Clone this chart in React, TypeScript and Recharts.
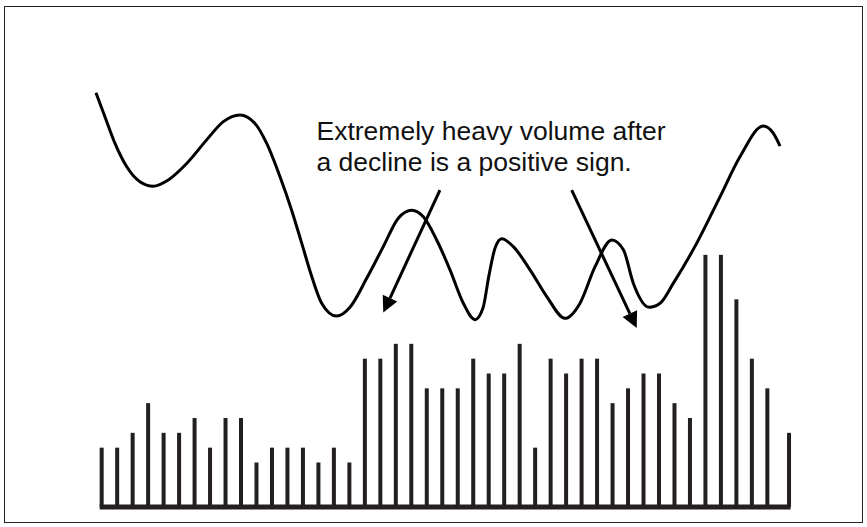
import React from "react";
import {
  ComposedChart,
  Bar,
  Line,
  XAxis,
  YAxis,
  ReferenceLine,
} from "recharts";

// volume bars, one per session
const days = [
  1, 2, 3, 4, 5, 6, 7, 8, 9, 10, 11, 12, 13, 14, 15, 16, 17, 18, 19, 20, 21,
  22, 23, 24, 25, 26, 27, 28, 29, 30, 31, 32, 33, 34, 35, 36, 37, 38, 39, 40,
  41, 42, 43, 44, 45.4,
];
const volume = [
  4, 4, 5, 7, 5, 5, 6, 4, 6, 6, 3, 4, 4, 4, 3, 4, 3, 10, 10, 11, 11, 8, 8, 8,
  10, 9, 9, 11, 4, 10, 9, 10, 10, 7, 8, 9, 9, 7, 6, 17, 17, 14, 10, 8, 5,
];

// price curve, traced points
const priceDays = [
  0.63, 1.21, 1.86, 2.61, 3.47, 4.33, 5.3, 6.49, 7.78, 8.86, 9.93, 10.9, 11.66,
  12.52, 13.27, 13.92, 14.57, 15.21, 16.18, 17.04, 18.12, 19.19, 20.16, 21.03,
  21.78, 22.64, 23.5, 24.36, 25.12, 25.63, 26.02, 26.41, 26.84, 27.59, 28.67,
  29.75, 30.93, 31.9, 32.87, 33.95, 34.7, 35.34, 36.36, 37.07, 37.93, 39.44,
  40.94, 42.23, 43.74, 44.38, 44.82,
];
const priceValues = [
  93.1, 87.7, 81.7, 76.5, 73.1, 72.1, 73.5, 77.2, 82.5, 86.6, 88.1, 86.2, 81.7,
  74.2, 66.7, 59.3, 51.8, 45.8, 42.9, 44.9, 51.4, 58.5, 64.9, 66.7, 65.2, 60.0,
  53.3, 45.8, 42.1, 44.7, 52.1, 58.2, 60.3, 58.5, 53.3, 47.3, 42.4, 45.8, 54.0,
  60.0, 57.8, 50.3, 44.9, 45.8, 50.3, 59.3, 69.7, 78.7, 85.6, 84.0, 81.1,
];

// annotation arrows: [fromDay, fromPrice, toDay, toPrice]
const arrows = [
  [22.85, 71.2, 19.19, 43.7],
  [31.36, 71.2, 35.56, 40.2],
];
const noteLines = ["Extremely heavy volume after", "a decline is a positive sign."];

const volData = days.map((d, i) => ({ day: d, vol: volume[i] }));
const priceData = priceDays.map((d, i) => ({ day: d, price: priceValues[i] }));

// thin stick centred on the bar's slot
const StickBar = (props: any) => {
  const { x, y, width, height } = props;
  if (height == null || height <= 0) return null;
  const cx = x + width / 2;
  return <rect x={cx - 2} y={y} width={4} height={height} fill="#231f20" />;
};

const ArrowShape = (props: any) => {
  const { x1, y1, x2, y2 } = props;
  const a = Math.atan2(y2 - y1, x2 - x1);
  const len = 16;
  const half = 8;
  const bx = x2 - len * Math.cos(a);
  const by = y2 - len * Math.sin(a);
  const px = -Math.sin(a) * half;
  const py = Math.cos(a) * half;
  return (
    <g>
      <line x1={x1} y1={y1} x2={bx} y2={by} stroke="#000" strokeWidth={3} />
      <polygon
        points={`${x2},${y2} ${bx + px},${by + py} ${bx - px},${by - py}`}
        fill="#000"
      />
    </g>
  );
};

export default function App() {
  return (
    <div style={{ position: "absolute", left: 0, top: 0, width: 867, height: 527, background: "#fff" }}>
      <div
        style={{
          position: "absolute",
          left: 4,
          top: 6,
          width: 857,
          height: 515,
          border: "1px solid #222",
        }}
      />
      <ComposedChart
        width={867}
        height={527}
        data={volData}
        margin={{ top: 62, right: 53.2, bottom: 20, left: 86.2 }}
        style={{ position: "absolute", left: 0, top: 0 }}
      >
        <XAxis type="number" dataKey="day" domain={[0, 47]} hide />
        <YAxis yAxisId="vol" domain={[0, 30]} hide />
        <YAxis yAxisId="price" domain={[0, 100]} hide />

        <Bar
          dataKey="vol"
          yAxisId="vol"
          fill="#231f20"
          shape={StickBar}
          isAnimationActive={false}
        />
        <ReferenceLine
          yAxisId="vol"
          segment={[
            { x: days[0] - 0.13, y: 0 },
            { x: days[days.length - 1] + 0.1, y: 0 },
          ]}
          stroke="#231f20"
          strokeWidth={5}
        />
        <Line
          data={priceData}
          dataKey="price"
          yAxisId="price"
          type="monotone"
          stroke="#000"
          strokeWidth={3}
          dot={false}
          activeDot={false}
          isAnimationActive={false}
        />
        {arrows.map((a, i) => (
          <ReferenceLine
            key={i}
            yAxisId="price"
            segment={[
              { x: a[0], y: a[1] },
              { x: a[2], y: a[3] },
            ]}
            shape={ArrowShape}
          />
        ))}
        <text
          fontFamily="'Liberation Sans', Arial, sans-serif"
          fontSize={26.5}
          fill="#111"
        >
          <tspan x={316.5} y={139.5}>{noteLines[0]}</tspan>
          <tspan x={316.5} y={171}>{noteLines[1]}</tspan>
        </text>
      </ComposedChart>
    </div>
  );
}
